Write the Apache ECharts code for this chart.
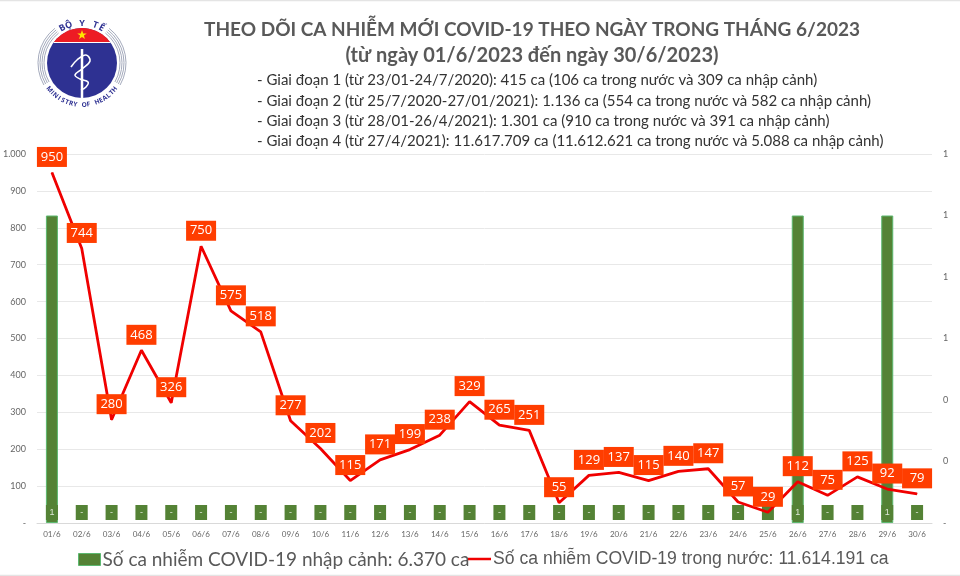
<!DOCTYPE html>
<html>
<head>
<meta charset="utf-8">
<script src="https://cdn.jsdelivr.net/npm/echarts@6/dist/echarts.min.js"></script>
<style>html,body{margin:0;padding:0;background:#fff}#main{width:960px;height:576px}</style>
</head>
<body>
<div id="main"></div>
<script>
var days = ['01/6','02/6','03/6','04/6','05/6','06/6','07/6','08/6','09/6','10/6','11/6','12/6','13/6','14/6','15/6','16/6','17/6','18/6','19/6','20/6','21/6','22/6','23/6','24/6','25/6','26/6','27/6','28/6','29/6','30/6'];
var trongNuoc = [950,744,280,468,326,750,575,518,277,202,115,171,199,238,329,265,251,55,129,137,115,140,147,57,29,112,75,125,92,79];
var nhapCanh = [1,0,0,0,0,0,0,0,0,0,0,0,0,0,0,0,0,0,0,0,0,0,0,0,0,1,0,0,1,0];
var nameNhapCanh = 'Số ca nhiễm COVID-19 nhập cảnh: 6.370 ca';
var nameTrongNuoc = 'Số ca nhiễm COVID-19 trong nước: 11.614.191 ca';
var titleLines = ['THEO DÕI CA NHIỄM MỚI COVID-19 THEO NGÀY TRONG THÁNG 6/2023','(từ ngày 01/6/2023 đến ngày 30/6/2023)'];
var stageLines = [
    '- Giai đoạn 1 (từ 23/01-24/7/2020): 415 ca (106 ca trong nước và 309 ca nhập cảnh)',
    '- Giai đoạn 2 (từ 25/7/2020-27/01/2021): 1.136 ca (554 ca trong nước và 582 ca nhập cảnh)',
    '- Giai đoạn 3 (từ 28/01-26/4/2021): 1.301 ca (910 ca trong nước và 391 ca nhập cảnh)',
    '- Giai đoạn 4 (từ 27/4/2021): 11.617.709 ca (11.612.621 ca trong nước và 5.088 ca nhập cảnh)'
];
var stageTops = [68,89,109,129];

var narrow = 'Lato, "Noto Sans", sans-serif';

// title blocks
var titles = [
    {text:titleLines[0],left:527,top:15,textAlign:'center',textStyle:{fontFamily:narrow,fontSize:19,fontWeight:'bold',color:'#595959'}},
    {text:titleLines[1],left:527,top:41,textAlign:'center',textStyle:{fontFamily:narrow,fontSize:20,fontWeight:'bold',color:'#595959'}}
];
for(var i=0;i<stageLines.length;i++){
    titles.push({text:stageLines[i],left:252,top:stageTops[i],textStyle:{fontFamily:narrow,fontSize:15,fontWeight:'normal',color:'#333333'}});
}

// logo
var cx = 82, cy = 63;
function arcText(str,r,mid,step,flip,size){
    var out = [];
    for(var i=0;i<str.length;i++){
        var a = mid+(i-(str.length-1)/2)*step*(flip?-1:1);
        out.push({type:'text',x:cx+r*Math.cos(a),y:cy+r*Math.sin(a),rotation:flip?(Math.PI/2-a):(-Math.PI/2-a),
            style:{text:str.charAt(i),fontSize:size,fontWeight:'bold',fontFamily:'"Open Sans",sans-serif',fill:'#2e3192',align:'center',verticalAlign:'middle'}});
    }
    return out;
}
var redPts = [];
for(var d=216.87;d<=323.13;d+=4){
    redPts.push([cx+35*Math.cos(d*Math.PI/180),cy+35*Math.sin(d*Math.PI/180)]);
}
redPts.push([cx+28,cy-21]);
var starPts = [];
for(var k=0;k<10;k++){
    var sr = k%2==0?5:2, sa = -Math.PI/2+k*Math.PI/5;
    starPts.push([cx+sr*Math.cos(sa),35+sr*Math.sin(sa)]);
}
var logo = [
    {type:'circle',shape:{cx:cx,cy:cy,r:35},style:{fill:'#2e3192'}},
    {type:'polygon',shape:{points:redPts},style:{fill:'#ed1c24'}},
    {type:'line',shape:{x1:cx-28,y1:cy-20.5,x2:cx+28,y2:cy-20.5},style:{stroke:'#fff',lineWidth:1}},
    {type:'polygon',shape:{points:starPts},style:{fill:'#ffe600'}},
    {type:'line',shape:{x1:cx,y1:49,x2:cx,y2:98},style:{stroke:'#fff',lineWidth:2.5}},
    {type:'polyline',shape:{points:[[71,67],[77,60],[86,55],[90,61],[82,69],[75,75],[80,79],[88,82],[86,87],[81,90]],smooth:0.4},style:{stroke:'#fff',lineWidth:1.6,fill:null}}
];
for(var r=38;r<=45;r+=2){
    logo.push({type:'arc',shape:{cx:cx,cy:cy,r:r,startAngle:150*Math.PI/180,endAngle:232*Math.PI/180},style:{stroke:'#9aa0b4',lineWidth:0.9,fill:null}});
    logo.push({type:'arc',shape:{cx:cx,cy:cy,r:r,startAngle:-52*Math.PI/180,endAngle:30*Math.PI/180},style:{stroke:'#9aa0b4',lineWidth:0.9,fill:null}});
}
logo = logo.concat(arcText('BỘ Y TẾ',40,-Math.PI/2,0.17,false,9));
logo = logo.concat(arcText('MINISTRY OF HEALTH',42,Math.PI/2,0.105,true,6.5));
logo.push({type:'line',shape:{x1:0,y1:0.5,x2:960,y2:0.5},style:{stroke:'#e4e4e4',lineWidth:1.5}});
logo.push({type:'line',shape:{x1:0,y1:575.5,x2:960,y2:575.5},style:{stroke:'#e4e4e4',lineWidth:1.5}});

// zero bars keep only their label, no outline on the baseline
var barData = [];
for(var j=0;j<nhapCanh.length;j++){
    barData.push({value:nhapCanh[j],itemStyle:{borderWidth:nhapCanh[j]?1:0}});
}

var myChart = echarts.init(document.getElementById('main'));
var option = {
    animation:false,
    title:titles,
    graphic:logo,
    legend:[
        {data:[{name:nameNhapCanh,icon:'rect'}],left:78,top:550,padding:0,itemWidth:22,itemHeight:12,itemStyle:{borderWidth:1,borderColor:'#5cb870'},textStyle:{fontFamily:narrow,fontSize:19,color:'#595959',padding:[0,0,0,-3]}},
        {data:[{name:nameTrongNuoc,icon:'rect'}],left:468,top:550,padding:0,itemWidth:23,itemHeight:2.5,textStyle:{fontFamily:'"Liberation Sans",sans-serif',fontSize:17.6,color:'#595959',padding:[0,0,0,-3]}}
    ],
    grid:{left:36,right:28,top:154,bottom:53},
    xAxis:{
        type:'category',
        data:days,
        axisLine:{lineStyle:{color:'#d9d9d9'}},
        axisTick:{show:false},
        axisLabel:{fontSize:8,color:'#666666',margin:7,interval:0,fontFamily:narrow}
    },
    yAxis:[
        {
            type:'value',min:0,max:1000,interval:100,
            axisLine:{show:false},axisTick:{show:false},
            splitLine:{lineStyle:{color:'#e8e8e8'}},
            axisLabel:{fontSize:9,color:'#666666',margin:11,fontFamily:narrow,formatter:function(v){
                if(v==0) return '-';
                return v>=1000?'1.000':String(v);
            }}
        },
        {
            type:'value',min:0,max:1.2,interval:0.2,
            axisLine:{show:false},axisTick:{show:false},splitLine:{show:false},
            axisLabel:{fontSize:9,color:'#666666',margin:11,fontFamily:narrow,formatter:function(v){
                if(v==0) return '-';
                return v<0.5?'0':'1';
            }}
        }
    ],
    series:[
        {
            name:nameNhapCanh,
            type:'bar',
            yAxisIndex:1,
            data:barData,
            barWidth:12,
            itemStyle:{color:'#548235',borderColor:'#5cb870'},
            label:{show:true,position:'insideBottom',distance:3,fontSize:9,color:'#dfe8d8',backgroundColor:'#548235',
                width:12,height:15,lineHeight:15,align:'center',
                formatter:function(p){return p.value==0?'-':String(p.value);}}
        },
        {
            name:nameTrongNuoc,
            type:'line',
            data:trongNuoc,
            symbol:'circle',
            symbolSize:1,
            z:5,
            lineStyle:{color:'#f00000',width:2.8},
            itemStyle:{color:'#f00000'},
            label:{show:true,position:'top',distance:5,fontSize:13,color:'#ffffff',backgroundColor:'#ff3d00',
                width:30,height:20,lineHeight:20,align:'center',fontFamily:'"Open Sans",sans-serif'}
        }
    ]
};
myChart.setOption(option);
</script>
</body>
</html>
